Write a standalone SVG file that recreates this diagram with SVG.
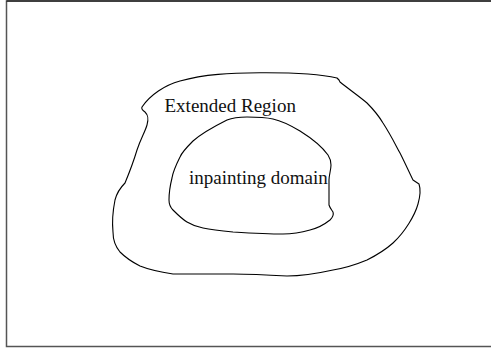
<svg xmlns="http://www.w3.org/2000/svg" width="491" height="349" viewBox="0 0 491 349">
<style>
.frame{fill:none;stroke:#555;stroke-width:1.5}
.curve{fill:none;stroke:#000;stroke-width:1.1;stroke-linejoin:round}
.lbl{font-family:"Liberation Serif","Times New Roman",serif;font-size:19px;fill:#111}
</style>
<rect x="6.5" y="1" width="490" height="345.5" class="frame"/>
<line x1="6.5" y1="1" x2="491" y2="1" stroke="#000" stroke-width="1.2"/>
<g id="extended-region">
<path class="curve" d="M142,107 C150,95 165,85 180,81 C205,74 230,73 260,72.7 C290,72.5 320,74 337,78 L339,80 L340,82 C350,90 360,97 367,103 C375,111 380,118 383,123 C392,137 396,146 400,153 C406,165 410,174 413,180 L419,184 C421,190 420,197 418,204 C415,215 405,232 393,243 C384,251 375,256 367,260 C355,265 345,268 333,270 C315,274 300,276 287,276 C270,275 250,274 233,274 L173,274 C160,272 150,270 140,266 C132,262 125,257 120,252 C115,246 113,240 113,232 C112,222 113,210 115,200 C117,192 120,188 125,183 C130,171 134,160 137,150 C141,138 145,132 147,125 C149,118 148,115 145,112 C142,110 141,109 142,107 Z"/>
<text class="lbl" x="164.5" y="111.5">Extended Region</text>
</g>
<g id="inpainting-domain">
<path class="curve" d="M247,117 C238,117 232,118 227,120 C215,126 202,133 193,141 C186,148 182,152 180,157 C176,165 173,171 172,178 C170,186 169,194 169,200 C169,205 170,207 173,210 C178,215 182,219 187,222 C192,225 197,227 203,228 C212,230 222,231 233,232 C250,233 268,234 283,234 C295,234 303,232 310,230 C318,228 325,224 330,220 C333,217 334,215 333,212 C331,209 330,208 329,205 L329,180 C329,175 331,170 331,165 C331,160 330,158 328,155 C323,148 316,141 300,131 C290,125 282,121 273,119 C264,117 255,117 247,117 Z"/>
<text class="lbl" x="189" y="183.5">inpainting domain</text>
</g>
</svg>
